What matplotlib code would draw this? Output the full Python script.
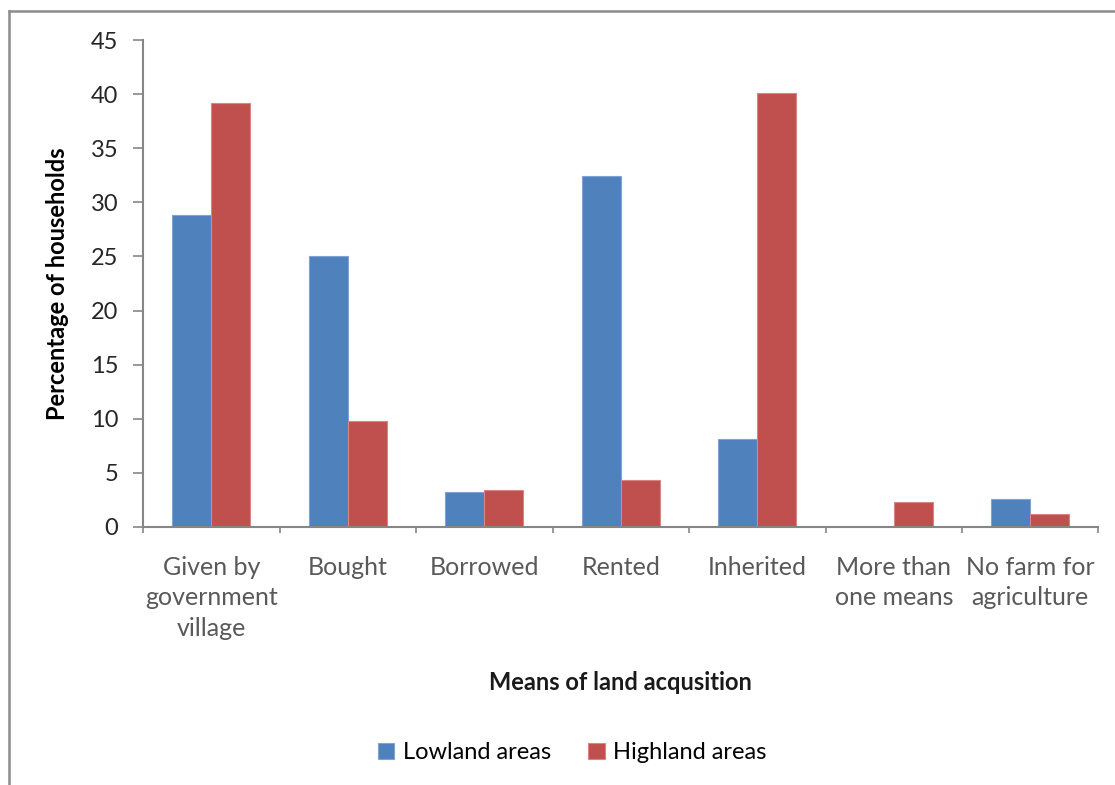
import numpy as np
import matplotlib.pyplot as plt
from matplotlib.lines import Line2D

# Data
categories = ['Given by\ngovernment\nvillage', 'Bought', 'Borrowed', 'Rented',
              'Inherited', 'More than\none means', 'No farm for\nagriculture']
lowland = [28.8, 25.0, 3.2, 32.4, 8.1, 0.0, 2.6]
highland = [39.2, 9.8, 3.4, 4.3, 40.1, 2.3, 1.2]
series_names = ['Lowland areas', 'Highland areas']
yticks = [0, 5, 10, 15, 20, 25, 30, 35, 40, 45]

blue = '#4F81BD'
red = '#C0504D'
axis_gray = '#868686'

plt.rcParams['font.family'] = ['Lato', 'DejaVu Sans']

fig = plt.figure(figsize=(11.15, 7.85), dpi=100)
ax = fig.add_axes([0.1283, 0.3287, 0.8569, 0.6203])

x = np.arange(len(categories))
w = 0.286
ax.bar(x - w / 2, lowland, w, color=blue, edgecolor='#7FA3D4', linewidth=0.8,
       label=series_names[0])
ax.bar(x + w / 2, highland, w, color=red, edgecolor='#D98583', linewidth=0.8,
       label=series_names[1])

ax.set_xlim(-0.5, len(categories) - 0.5)
ax.set_ylim(0, 45)
ax.set_yticks(yticks)
ax.tick_params(axis='y', labelsize=17, labelcolor='#262626', length=7,
               width=1.2, color=axis_gray, pad=11)

# category labels sit between the boundary ticks
ax.set_xticks(np.arange(len(categories) + 1) - 0.5)
ax.set_xticklabels([])
ax.tick_params(axis='x', length=4.5, width=1.2, color=axis_gray)
ax.set_xticks(x, minor=True)
ax.set_xticklabels(categories, minor=True, fontsize=18, color='#595959',
                   linespacing=1.38)
ax.tick_params(axis='x', which='minor', length=0, pad=21)

for s in ['top', 'right']:
    ax.spines[s].set_visible(False)
for s in ['left', 'bottom']:
    ax.spines[s].set_color(axis_gray)
    ax.spines[s].set_linewidth(1.5)

ax.set_ylabel('Percentage of households', fontsize=17, fontweight='bold')
ax.yaxis.set_label_coords(-0.078, 0.5)
fig.text(0.556, 0.13, 'Means of land acqusition', fontsize=17,
         fontweight='bold', ha='center', va='center', color='#1a1a1a')

fig.legend(loc='center', bbox_to_anchor=(0.513, 0.041), ncol=2, frameon=False,
           fontsize=17, handlelength=0.7, handleheight=0.7,
           handletextpad=0.35, columnspacing=1.58)

# outer chart frame
fig.add_artist(Line2D([9 / 1115, 9 / 1115], [0, 1 - 11 / 785],
                      transform=fig.transFigure, color='#8c8c8c', lw=1.8))
fig.add_artist(Line2D([9 / 1115, 1], [1 - 11 / 785, 1 - 11 / 785],
                      transform=fig.transFigure, color='#8c8c8c', lw=1.8))

fig.savefig('out.png', dpi=100)
